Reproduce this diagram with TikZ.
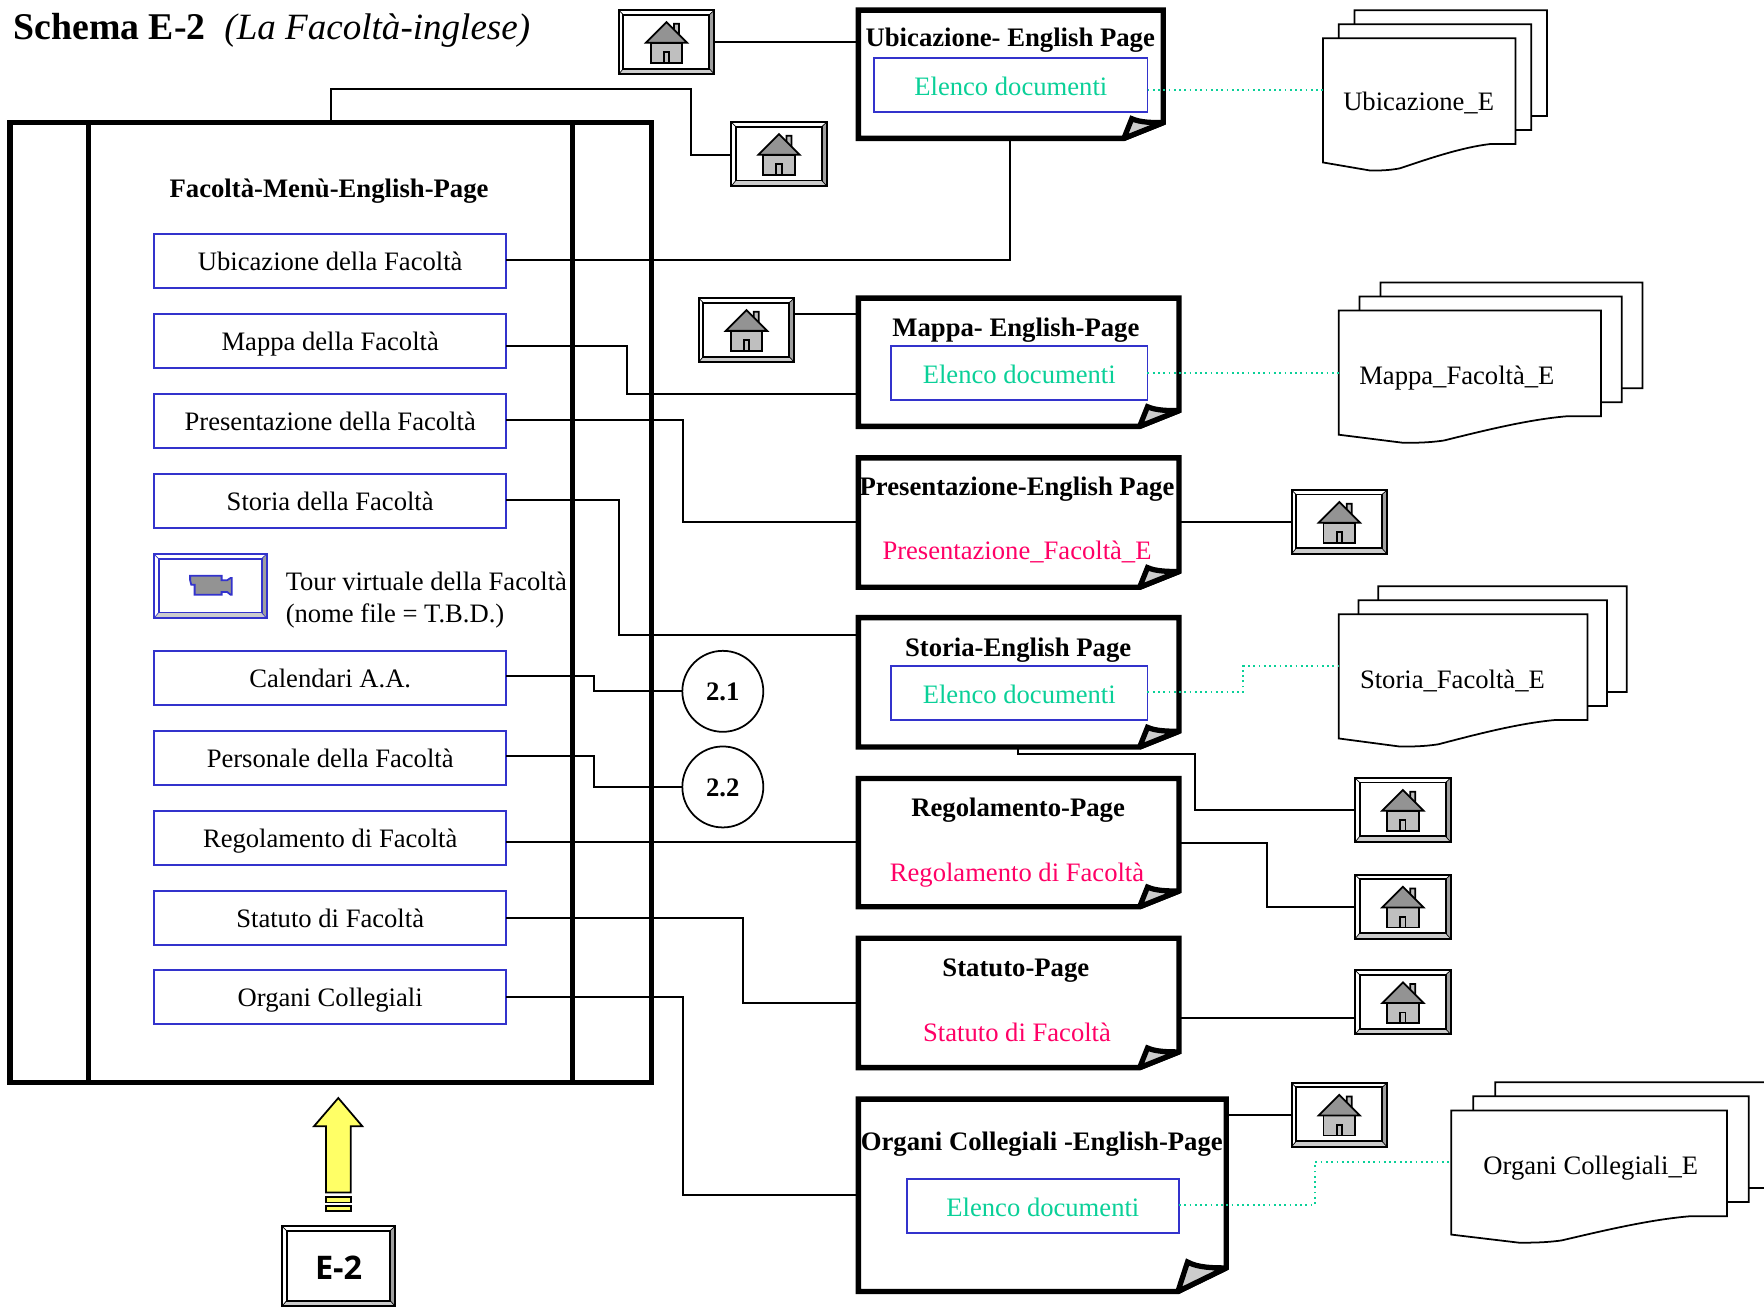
\documentclass[tikz,border=0pt]{standalone}
\usepackage{fontspec}
\setmainfont{Liberation Serif}
\newfontfamily\keyfont{Open Sans}
\usetikzlibrary{calc}
\definecolor{menublue}{RGB}{51,51,204}
\definecolor{listgreen}{RGB}{10,208,152}
\definecolor{filepink}{RGB}{255,0,102}
\definecolor{arrowyellow}{RGB}{255,255,102}
\tikzset{
    every node/.style={inner sep=0pt, outer sep=0pt},
    txt/.style={font=\fontsize{15.15}{18}\selectfont, text height=11.5pt, text depth=0.5pt},
    boldtxt/.style={font=\fontsize{15.2}{18}\selectfont\bfseries, text height=11.5pt, text depth=0.5pt},
    menubox/.style={draw=menublue, line width=1pt, minimum width=7.04cm, minimum height=1.08cm, txt},
    listbox/.style={draw=menublue, line width=1pt, minimum height=1.08cm, text=listgreen, txt, text height=12pt, text depth=0pt},
    pagetitle/.style={boldtxt},
    pagefile/.style={txt, text=filepink},
    pageline/.style={line width=3.1pt, fill=white, miter limit=2},
    wire/.style={line width=1pt},
    dotwire/.style={line width=1pt, listgreen, dotted},
    btnbox/.style={minimum width=1.91cm, minimum height=1.28cm},
    sheet/.style={line width=1pt, fill=white},
    circlenode/.style={circle, draw, line width=1pt, fill=white, minimum size=1.62cm, boldtxt}
}
\newcommand{\pagenode}[7]{
    \node[minimum width={(#4-#2)*0.0225cm}, minimum height={(#5-#3)*0.0225cm}] (#1) at ({(#2+#4)/2},{(#3+#5)/2}) {};
    \draw[pageline] (#1.south west) -- (#1.north west) -- (#1.north east) -- ($(#1.south east)+(0,-#7)$) -- ($(#1.south east)+(-#6,0)$) -- cycle;
    \draw[line width=3pt, fill=gray!40, miter limit=2] ($(#1.south east)+(-#6,0)$) -- ($(#1.south east)+({-0.8*#6},{-1.25*#7})$) .. controls ($(#1.south east)+({-0.58*#6},{-1*#7})$) and ($(#1.south east)+({-0.25*#6},{-1*#7})$) .. ($(#1.south east)+(0,-#7)$) -- cycle;
}
\newcommand{\bevelbtn}[2]{
    \fill[gray!75] (#1.north east) -- ($(#1.north east)+(-4.5,4)$) -- ($(#1.south east)+(-4.5,-5)$) -- (#1.south east) -- cycle;
    \fill[gray!40] (#1.south west) -- ($(#1.south west)+(4,-5)$) -- ($(#1.south east)+(-4.5,-5)$) -- (#1.south east) -- cycle;
    \draw[#2, line width=1.1pt] (#1.north west) rectangle (#1.south east);
    \draw[#2, line width=1.1pt] ($(#1.north west)+(4,4)$) rectangle ($(#1.south east)+(-4.5,-5)$);
    \draw[#2, line width=0.4pt] (#1.north east) -- ++(-4.5,4) (#1.south east) -- ++(-4.5,-5) (#1.south west) -- ++(4,-5) (#1.north west) -- ++(4,4);
}
\newcommand{\homebtn}[3]{
    \node[btnbox] (#1) at (#2,#3) {};
    \bevelbtn{#1}{black}
    \begin{scope}[shift={(#1.center)}, line width=1pt]
        \draw[fill=gray!50] (6.5,-8) -- (6.5,-16.3) -- (11,-16.3) -- (11,-5) -- cycle;
        \draw[fill=lightgray] (-14,0.6) rectangle (14,18.4);
        \draw[fill=gray!85] (0,-17.8) -- (18.4,0.6) -- (-18.4,0.6) -- cycle;
        \draw[fill=lightgray] (-2.4,8.9) rectangle (2.4,18.4);
    \end{scope}
}
\newcommand{\docsheet}[3]{
    \begin{scope}[shift={(#1,#2)}, xscale=#3]
        \draw[sheet] (0,0) -- (1,0) -- (1,94) -- (0.87,94) .. controls (0.72,97) and (0.55,107) .. (0.40,115.6) .. controls (0.34,117.6) and (0.29,117.6) .. (0.246,117.6) -- (0,110.4) -- cycle;
    \end{scope}
}
\newcommand{\docstack}[5]{
    \docsheet{#2+2*#5}{#3-25}{#4}
    \docsheet{#2+#5}{#3-12.5}{#4}
    \docsheet{#2}{#3}{#4}
    \node[minimum width={#4*0.0225cm}, minimum height=2.115cm] (#1) at ({#2+#4/2},{#3+47}) {};
}
\begin{document}
\begin{tikzpicture}[x=0.0225cm, y=-0.0225cm]
    \clip (0,0) rectangle (1568,1161.8);

    \node[font=\fontsize{21.5}{25}\selectfont\bfseries, anchor=base west] (schematitle) at (12,35) {Schema E-2};
    \node[font=\fontsize{21.1}{25}\selectfont\itshape, anchor=base west] (schemasub) at (199.5,35) {(La Facoltà-inglese)};

    \node[draw, line width=3.1pt, minimum width=12.83cm, minimum height=19.21cm] (menuframe) at (294,535.5) {};
    \draw[line width=3.1pt] (menuframe.north west -| 78.5,0) -- (menuframe.south west -| 78.5,0);
    \draw[line width=3.1pt] (menuframe.north west -| 509,0) -- (menuframe.south west -| 509,0);
    \node[boldtxt] (menutitle) at (292.5,167) {Facoltà-Menù-English-Page};

    \foreach \nm/\yy/\txt in {ubimenu/232/Ubicazione della Facoltà, mapmenu/303.2/Mappa della Facoltà,
        premenu/374.4/Presentazione della Facoltà, stomenu/445.5/Storia della Facoltà,
        calmenu/602.5/Calendari A.A., permenu/673.5/Personale della Facoltà,
        regmenu/744.8/Regolamento di Facoltà, statmenu/815.8/Statuto di Facoltà, orgmenu/886.5/Organi Collegiali} {
        \node[menubox] (\nm) at (293.5,\yy) {\txt};
    }

    \node[btnbox, minimum width=2.25cm] (tourbtn) at (187,521) {};
    \bevelbtn{tourbtn}{menublue}
    \draw[menublue, line width=1pt, fill=gray!85, shift={(169,511.7)}] (0,0) -- (28,0) -- (28,4) -- (33,4) -- (36,2) -- (37,2) -- (37,17) -- (36,17) -- (33,14.5) -- (28,14.5) -- (28,17) -- (4,17) -- (4,8) -- (1,8) -- (0,4) -- cycle;
    \node[font=\fontsize{15.15}{18}\selectfont, anchor=west, align=left] (tourtxt) at (254,533.5) {Tour virtuale della Facoltà\\(nome file = T.B.D.)};

    \pagenode{ubipage}{763}{9}{1034}{123}{35}{14}
    \pagenode{mappage}{763}{265}{1048}{379}{35}{14}
    \pagenode{prepage}{763}{407}{1048}{522}{35}{14}
    \pagenode{stopage}{763}{549}{1048}{664}{35}{14}
    \pagenode{regpage}{763}{692}{1048}{806}{35}{14}
    \pagenode{statpage}{763}{834}{1048}{949}{35}{14}
    \pagenode{orgpage}{763}{977}{1090}{1148}{43}{21}

    \node[pagetitle] (ubititle) at (898,33) {Ubicazione-\ English Page};
    \node[pagetitle] (maptitle) at (903,290.5) {Mappa-\ English-Page};
    \node[pagetitle] (pretitle) at (904,432) {Presentazione-English Page};
    \node[pagetitle] (stotitle) at (905,575) {Storia-English Page};
    \node[pagetitle] (regtitle) at (905,717) {Regolamento-Page};
    \node[pagetitle] (stattitle) at (903,859.5) {Statuto-Page};
    \node[pagetitle] (orgtitle) at (926,1014) {Organi Collegiali -English-Page};

    \node[pagefile] (prefile) at (904,489) {Presentazione\_Facoltà\_E};
    \node[pagefile] (regfile) at (904,775) {Regolamento di Facoltà};
    \node[pagefile] (statfile) at (904,917) {Statuto di Facoltà};

    \node[listbox, minimum width=5.47cm] (ubilist) at (898.5,75.5) {Elenco documenti};
    \node[listbox, minimum width=5.13cm] (maplist) at (906,331.5) {Elenco documenti};
    \node[listbox, minimum width=5.13cm] (stolist) at (906,616) {Elenco documenti};
    \node[listbox, minimum width=5.445cm] (orglist) at (927,1072) {Elenco documenti};

    \homebtn{homeubi}{592.5}{37.5}
    \homebtn{homemenu}{692.5}{137}
    \homebtn{homemap}{663.5}{293.5}
    \homebtn{homepre}{1190.5}{464}
    \homebtn{homesto}{1247}{720}
    \homebtn{homereg}{1247}{806}
    \homebtn{homestat}{1247}{891}
    \homebtn{homeorg}{1190.5}{991}

    \docstack{ubidoc}{1176}{34}{171}{14}
    \docstack{mapdoc}{1190}{276}{233}{18.5}
    \docstack{stodoc}{1190}{546}{221}{17.5}
    \docstack{orgdoc}{1290}{987}{245}{19.5}

    \node[txt] (ubidoctxt) at (1261,90) {Ubicazione\_E};
    \node[txt] (mapdoctxt) at (1295,333) {Mappa\_Facoltà\_E};
    \node[txt] (stodoctxt) at (1291,603) {Storia\_Facoltà\_E};
    \node[txt] (orgdoctxt) at (1414,1035) {Organi Collegiali\_E};

    \node[circlenode] (circleone) at (642.5,614.5) {2.1};
    \node[circlenode] (circletwo) at (642.5,699.5) {2.2};

    \draw[wire] (menuframe.north -| 294,0) -- (294,79) -- (614,79) |- (homemenu.west |- 0,138);
    \draw[wire] (homeubi.east) -- (homeubi.east -| ubipage.west);
    \draw[wire] (ubimenu.east |- 0,231) -| (ubipage.south -| 898,0);
    \draw[wire] (homemap.east |- 0,279) -- (mappage.west |- 0,279);
    \draw[wire] (mapmenu.east |- 0,307.6) -- (557,307.6) |- (mappage.west |- 0,350);
    \draw[wire] (premenu.east |- 0,373) -- (607,373) |- (prepage.west |- 0,464);
    \draw[wire] (stomenu.east |- 0,444.4) -- (550,444.4) |- (stopage.west |- 0,564.4);
    \draw[wire] (calmenu.east |- 0,601) -- (528,601) |- (circleone.west);
    \draw[wire] (permenu.east |- 0,672) -- (528,672) |- (circletwo.west);
    \draw[wire] (regmenu.east |- 0,748.4) -- (regpage.west |- 0,748.4);
    \draw[wire] (statmenu.east |- 0,816) -- (660.4,816) |- (statpage.west |- 0,891.6);
    \draw[wire] (orgmenu.east |- 0,886) -- (607,886) |- (orgpage.west |- 0,1062);
    \draw[wire] (prepage.east |- 0,464) -- (homepre.west);
    \draw[wire] (stopage.south -| 905,0) -- (905,670) -- (1062,670) |- (homesto.west);
    \draw[wire] (regpage.east |- 0,749) -- (1126,749) |- (homereg.west);
    \draw[wire] (statpage.east |- 0,905) -- (homestat.west |- 0,905);
    \draw[wire] (orgpage.east |- 0,991) -- (homeorg.west);

    \draw[dotwire] (ubilist.east |- 0,80) -- (ubidoc.west |- 0,80);
    \draw[dotwire] (maplist.east) -- (mapdoc.west |- 0,331.5);
    \draw[dotwire] (stolist.east |- 0,615) -- (1105,615) |- (stodoc.west |- 0,592);
    \draw[dotwire] (orglist.east |- 0,1071) -- (1169,1071) |- (orgdoc.west |- 0,1033);

    \draw[wire, fill=arrowyellow] (300.7,976) -- (322,1001) -- (311.7,1001) -- (311.7,1060) -- (289.7,1060) -- (289.7,1001) -- (279.2,1001) -- cycle;
    \draw[wire, fill=arrowyellow] (289.7,1063.7) rectangle (311.7,1068.8);
    \draw[wire, fill=arrowyellow] (289.7,1072) rectangle (311.7,1076.6);

    \node[minimum width=2.26cm, minimum height=1.6cm] (keybtn) at (301,1125.5) {};
    \bevelbtn{keybtn}{black}
    \node[font=\keyfont\fontsize{18.5}{22}\selectfont\bfseries] (keytxt) at (301,1127) {E-2};
\end{tikzpicture}
\end{document}
